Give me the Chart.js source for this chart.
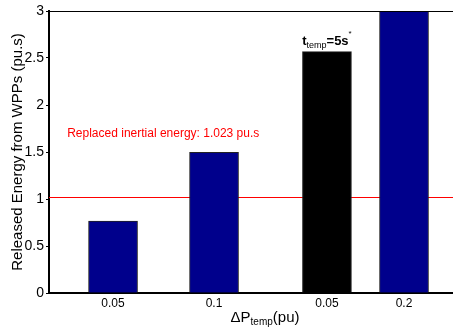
<!DOCTYPE html>
<html><head><meta charset="utf-8">
<script src="https://cdn.jsdelivr.net/npm/chart.js@4/dist/chart.umd.min.js"></script>
<style>html,body{margin:0;padding:0;background:#fff;overflow:hidden}</style>
</head><body>
<canvas id="c" width="453" height="330"></canvas>
<script>
// ---- data ----
const tickLabels = ['0.05', '0.1', '0.05', '0.2'];
const barPositions = [0.634, 1.634, 2.752, 3.515];
const energyValues = [0.766, 1.497, 2.567, 3.0];
const barColors = ['#00008C', '#00008C', '#000000', '#00008C'];
const yTickValues = [0, 0.5, 1, 1.5, 2, 2.5, 3];
const replacedEnergy = 1.023;
const refText = 'Replaced inertial energy: 1.023 pu.s';
const refTextPos = {x: 0.18, y: 1.69};
const yTitle = 'Released Energy from WPPs (pu.s)';

const FONT = 'Arial, "Liberation Sans", sans-serif';

const overlay = {
  id: 'overlay',
  beforeDatasetsDraw(chart) {
    const {ctx, chartArea: a, scales: {x, y}} = chart;
    const py = y.getPixelForValue(replacedEnergy);
    ctx.save();
    ctx.strokeStyle = '#FF0000';
    ctx.lineWidth = 1;
    ctx.beginPath();
    ctx.moveTo(a.left, Math.round(py) + 0.5);
    ctx.lineTo(a.right, Math.round(py) + 0.5);
    ctx.stroke();
    ctx.restore();
  },
  afterDraw(chart) {
    const {ctx, chartArea: a, scales: {x, y}} = chart;
    ctx.save();
    ctx.strokeStyle = '#000';
    ctx.lineWidth = 1;
    ctx.beginPath();
    ctx.moveTo(a.left, a.top + 0.5);
    ctx.lineTo(a.right, a.top + 0.5);
    ctx.stroke();

    ctx.fillStyle = '#FF0000';
    ctx.font = '12px ' + FONT;
    ctx.textBaseline = 'middle';
    ctx.textAlign = 'left';
    ctx.fillText(refText, x.getPixelForValue(refTextPos.x), y.getPixelForValue(refTextPos.y));

    ctx.fillStyle = '#000';
    ctx.textBaseline = 'alphabetic';
    const parts = [
      {t: 't', f: 'bold 13px ' + FONT, dy: 0},
      {t: 'temp', f: '9px ' + FONT, dy: 3},
      {t: '=5s', f: 'bold 13px ' + FONT, dy: 0},
      {t: '*', f: '8px ' + FONT, dy: -9}
    ];
    let w = 0;
    parts.forEach(p => { ctx.font = p.f; p.w = ctx.measureText(p.t).width; w += p.w; });
    let cx = x.getPixelForValue(barPositions[2]) - w / 2;
    const base = y.getPixelForValue(energyValues[2]) - 7;
    parts.forEach(p => { ctx.font = p.f; ctx.fillText(p.t, cx, base + p.dy); cx += p.w; });

    ctx.save();
    ctx.translate(18, (a.top + a.bottom) / 2);
    ctx.rotate(-Math.PI / 2);
    ctx.font = '15px ' + FONT;
    ctx.textAlign = 'center';
    ctx.textBaseline = 'middle';
    ctx.fillText(yTitle, 0, 0);
    ctx.restore();

    const xp = [
      {t: '\u0394P', f: '15px ' + FONT, dy: 0},
      {t: 'temp', f: '10px ' + FONT, dy: 3},
      {t: '(pu)', f: '15px ' + FONT, dy: 0}
    ];
    let xw = 0;
    xp.forEach(p => { ctx.font = p.f; p.w = ctx.measureText(p.t).width; xw += p.w; });
    let sx = 265 - xw / 2;
    ctx.textAlign = 'left';
    ctx.textBaseline = 'alphabetic';
    xp.forEach(p => { ctx.font = p.f; ctx.fillText(p.t, sx, 322 + p.dy); sx += p.w; });
    ctx.restore();
  }
};

new Chart(document.getElementById('c'), {
  type: 'bar',
  data: {
    datasets: [{
      data: barPositions.map((p, i) => ({x: p, y: energyValues[i]})),
      backgroundColor: barColors,
      borderColor: '#222',
      borderWidth: 1,
      barThickness: 49
    }]
  },
  options: {
    responsive: false,
    animation: false,
    layout: {padding: {top: 11, right: 0, left: 0, bottom: 0}},
    plugins: {legend: {display: false}, tooltip: {enabled: false}},
    scales: {
      x: {
        type: 'linear',
        min: 0, max: 4,
        offset: false,
        afterBuildTicks: s => { s.ticks = barPositions.map(v => ({value: v})); },
        afterFit: s => { s.height = 37; },
        grid: {drawOnChartArea: false, drawTicks: false},
        border: {color: '#000', width: 2},
        ticks: {
          color: '#000', font: {family: FONT, size: 12}, padding: 3,
          maxRotation: 0, autoSkip: false,
          callback: (v, i) => tickLabels[i]
        }
      },
      y: {
        min: 0, max: 3,
        afterBuildTicks: s => { s.ticks = yTickValues.map(v => ({value: v})); },
        afterFit: s => { s.width = 49; },
        grid: {drawOnChartArea: false, tickLength: 3, color: '#000'},
        border: {color: '#000', width: 2},
        ticks: {color: '#000', font: {family: FONT, size: 14}, padding: 2,
          callback: (v, i) => String(yTickValues[i])}
      }
    }
  },
  plugins: [overlay]
});
</script>
</body></html>
